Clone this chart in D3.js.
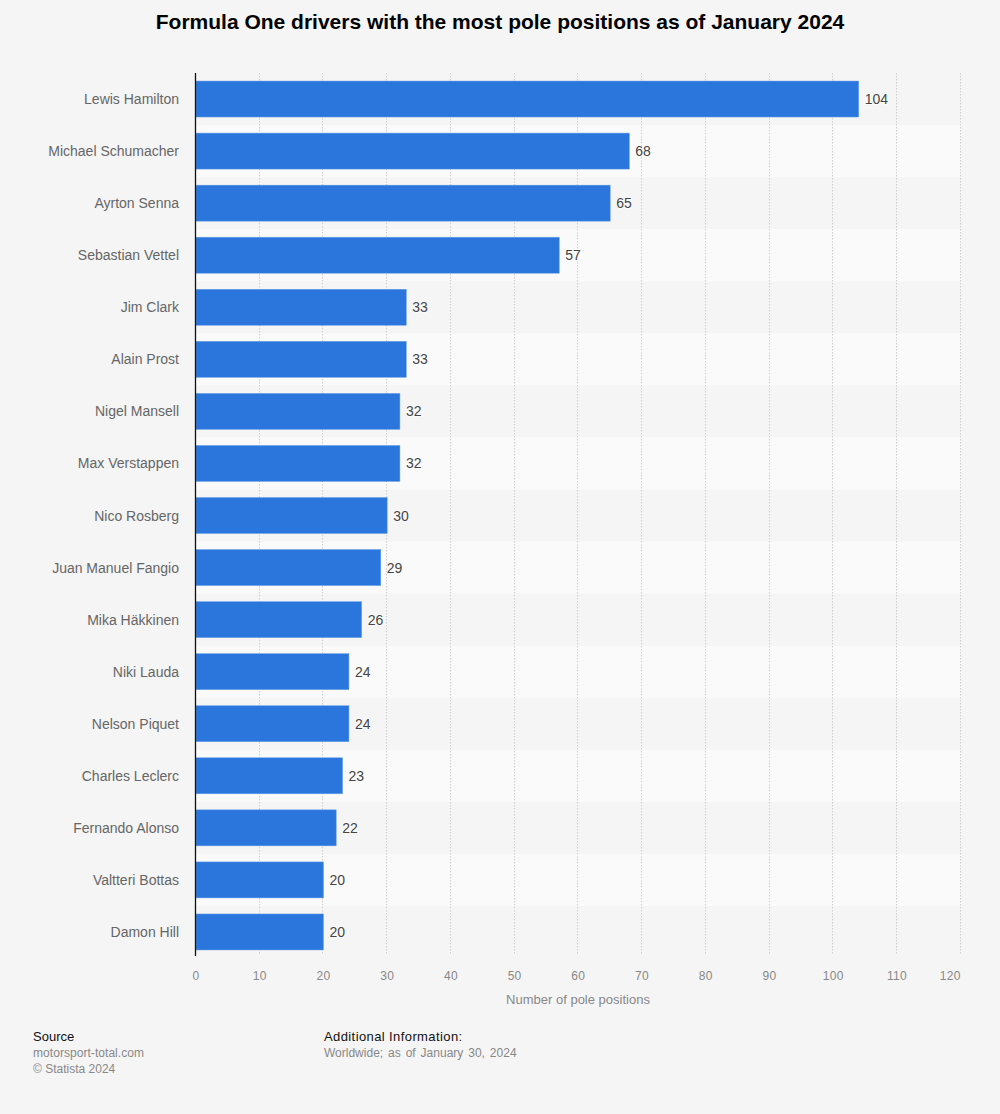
<!DOCTYPE html>
<html>
<head>
<meta charset="utf-8">
<script src="https://cdn.jsdelivr.net/npm/d3@7"></script>
<style>
  html, body { margin: 0; padding: 0; background: #f5f5f5; }
  text { font-family: "Liberation Sans", Arial, sans-serif; }
</style>
</head>
<body>
<div id="chart"></div>
<script>
// values
var drivers = ["Lewis Hamilton", "Michael Schumacher", "Ayrton Senna", "Sebastian Vettel", "Jim Clark", "Alain Prost",
  "Nigel Mansell", "Max Verstappen", "Nico Rosberg", "Juan Manuel Fangio", "Mika Häkkinen", "Niki Lauda",
  "Nelson Piquet", "Charles Leclerc", "Fernando Alonso", "Valtteri Bottas", "Damon Hill"]
var polePositions = [104, 68, 65, 57, 33, 33, 32, 32, 30, 29, 26, 24, 24, 23, 22, 20, 20]
var xTicks = [0, 10, 20, 30, 40, 50, 60, 70, 80, 90, 100, 110, 120]

var width = 1000, height = 1114
var plotLeft = 196, plotRight = 961, plotTop = 73, plotBottom = 958

var svg = d3.select("#chart").append("svg")
  .attr("width", width)
  .attr("height", height)
  .style("display", "block")

var x = d3.scaleLinear().domain([0, 120]).range([plotLeft, plotRight - 0.3])
var y = d3.scaleBand().domain(drivers).range([plotTop, plotBottom]).paddingInner(0).paddingOuter(0)
var barH = 36

// alternating row bands
svg.append("g").selectAll("rect")
  .data(drivers.filter(function(d, i) { return i % 2 == 1 }))
  .enter().append("rect")
  .attr("x", plotLeft)
  .attr("width", plotRight - plotLeft)
  .attr("y", function(d) { return y(d) })
  .attr("height", y.bandwidth())
  .attr("fill", "#fafafa")

// gridlines
svg.append("g").selectAll("line")
  .data(xTicks.slice(1))
  .enter().append("line")
  .attr("x1", function(d) { return Math.round(x(d)) - 0.5 })
  .attr("x2", function(d) { return Math.round(x(d)) - 0.5 })
  .attr("y1", plotTop)
  .attr("y2", 955)
  .attr("stroke", "#cfcfcf")
  .attr("stroke-width", 1)
  .attr("stroke-dasharray", "1.5,1.5")

// bars
svg.append("g").selectAll("rect")
  .data(polePositions)
  .enter().append("rect")
  .attr("x", plotLeft)
  .attr("y", function(d, i) { return y(drivers[i]) + (y.bandwidth() - barH) / 2 })
  .attr("width", function(d) { return x(d) - plotLeft })
  .attr("height", barH)
  .attr("fill", "#2a76dd")
  .attr("stroke", "#6a9fe6")
  .attr("stroke-width", 0.5)

// y axis line
svg.append("line")
  .attr("x1", 195.5).attr("x2", 195.5)
  .attr("y1", plotTop).attr("y2", 956)
  .attr("stroke", "#111")
  .attr("stroke-width", 1.3)

// driver names
svg.append("g").selectAll("text")
  .data(drivers)
  .enter().append("text")
  .attr("x", 179)
  .attr("y", function(d) { return y(d) + y.bandwidth() / 2 + 5 })
  .attr("text-anchor", "end")
  .attr("font-size", 14)
  .attr("fill", "#666")
  .text(function(d) { return d })

// value labels
svg.append("g").selectAll("text")
  .data(polePositions)
  .enter().append("text")
  .attr("x", function(d) { return x(d) + 6 })
  .attr("y", function(d, i) { return y(drivers[i]) + y.bandwidth() / 2 + 5 })
  .attr("font-size", 14)
  .attr("fill", "#444")
  .attr("stroke", "#fff")
  .attr("stroke-width", 2)
  .attr("stroke-opacity", 0.6)
  .attr("paint-order", "stroke")
  .text(function(d) { return d })

// x tick labels
svg.append("g").selectAll("text")
  .data(xTicks)
  .enter().append("text")
  .attr("x", function(d) { return x(d) })
  .attr("y", 980)
  .attr("text-anchor", function(d) { return d == 120 ? "end" : "middle" })
  .attr("font-size", 12)
  .attr("letter-spacing", 0.3)
  .attr("fill", "#888")
  .text(function(d) { return d })

svg.append("text")
  .attr("x", 578)
  .attr("y", 1004)
  .attr("text-anchor", "middle")
  .attr("font-size", 13)
  .attr("fill", "#888")
  .text("Number of pole positions")

svg.append("text")
  .attr("x", 500)
  .attr("y", 29)
  .attr("text-anchor", "middle")
  .attr("font-size", 21)
  .attr("font-weight", "bold")
  .attr("fill", "#000")
  .text("Formula One drivers with the most pole positions as of January 2024")

// footer
svg.append("text").attr("x", 33).attr("y", 1041).attr("font-size", 13).attr("fill", "#111").text("Source")
svg.append("text").attr("x", 33).attr("y", 1057).attr("font-size", 12).attr("letter-spacing", 0.05).attr("fill", "#888").text("motorsport-total.com")
svg.append("text").attr("x", 33).attr("y", 1073).attr("font-size", 12).attr("fill", "#888").text("© Statista 2024")
svg.append("text").attr("x", 324).attr("y", 1041).attr("font-size", 13).attr("letter-spacing", 0.4).attr("fill", "#111").text("Additional Information:")
svg.append("text").attr("x", 324).attr("y", 1057).attr("font-size", 12).attr("word-spacing", 1.6).attr("fill", "#888").text("Worldwide; as of January 30, 2024")
</script>
</body>
</html>
